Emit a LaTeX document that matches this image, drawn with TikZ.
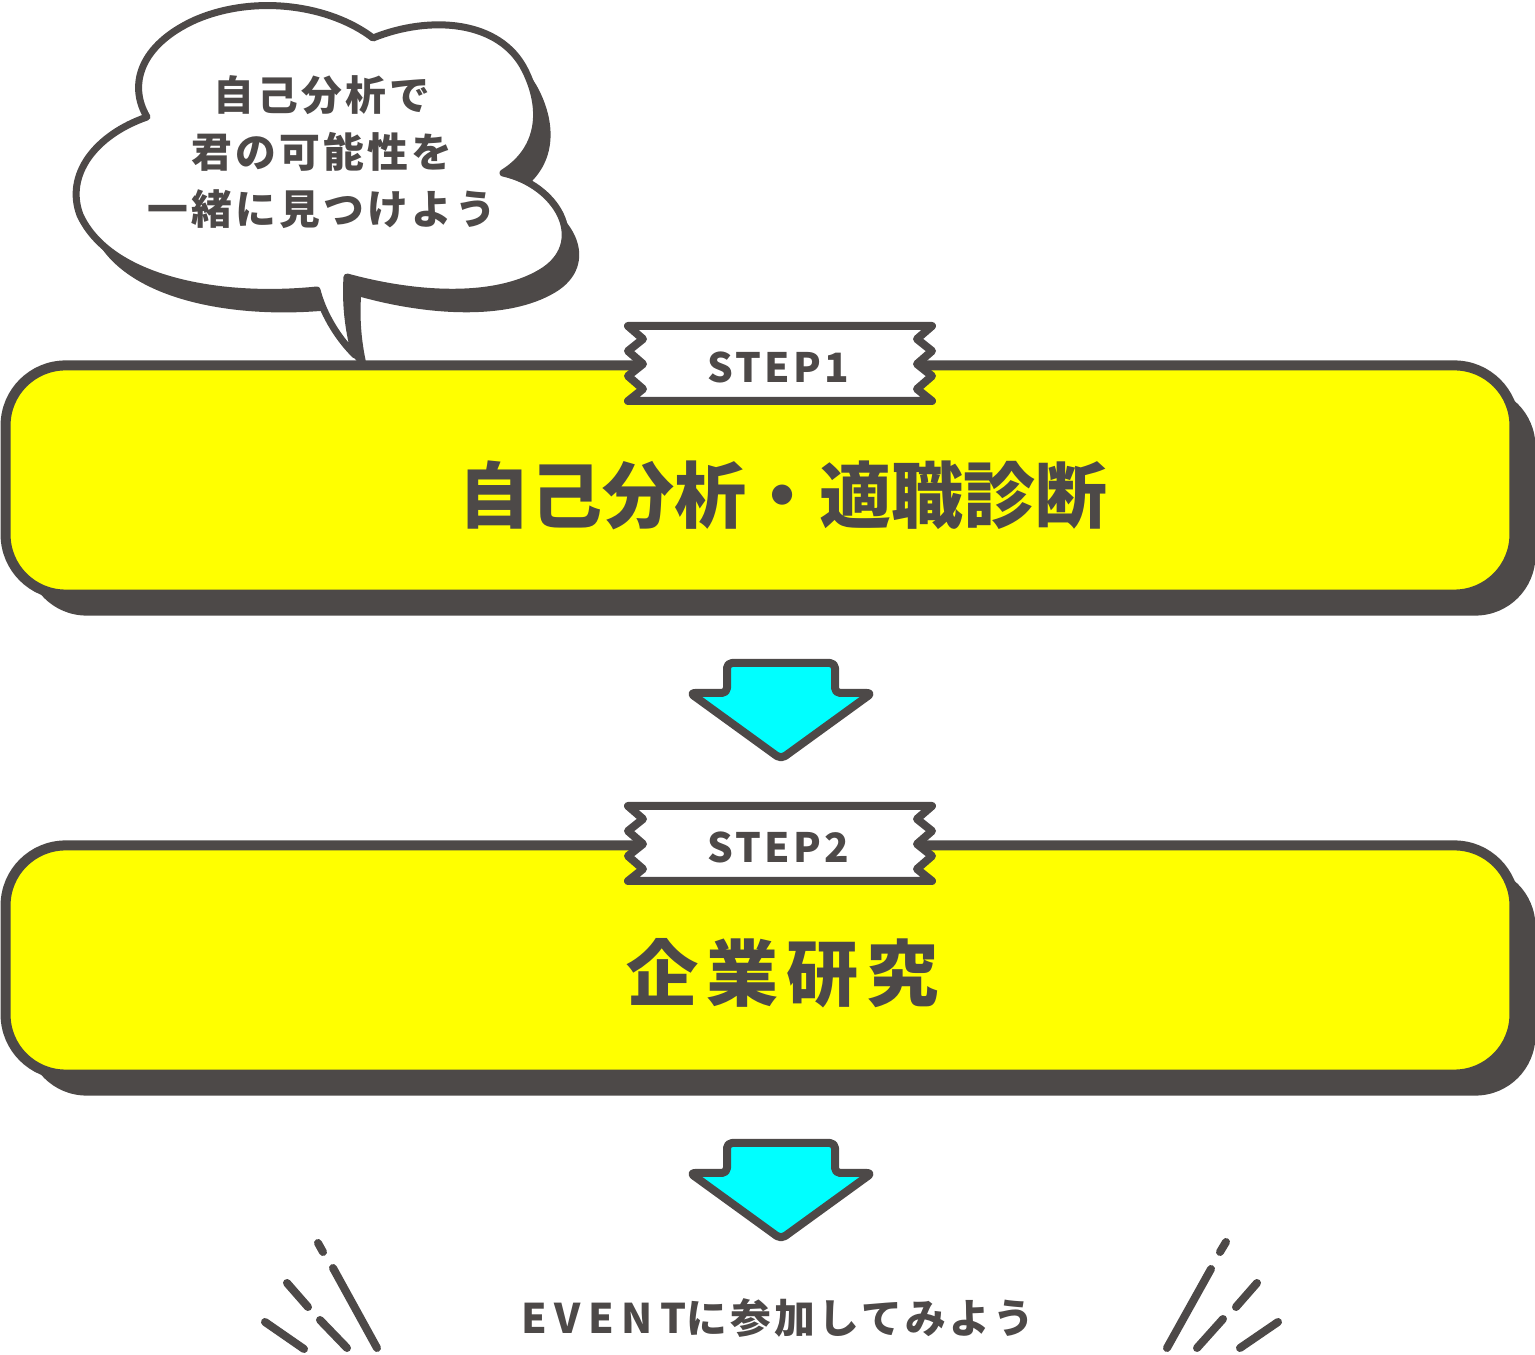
\documentclass[tikz,border=0pt]{standalone}
\usepackage{fontspec}
\setmainfont{Noto Sans CJK JP}
\newfontfamily\widejp{Noto Sans CJK JP}[LetterSpace=8]
\newfontfamily\widerjp{Noto Sans CJK JP}[LetterSpace=11]
\newfontfamily\widelatin{Noto Sans CJK JP}[LetterSpace=18]
\usetikzlibrary{positioning, shadows}
\definecolor{ink}{RGB}{77,73,72}
\definecolor{boxyellow}{RGB}{255,255,0}
\definecolor{arrowcyan}{RGB}{0,255,255}

\begin{document}
\begin{tikzpicture}[x=0.01cm,y=-0.01cm,font=\bfseries,line join=round,text=ink]

	\tikzset{box st/.style={draw=ink, fill=boxyellow, line width=0.1cm,
			rounded corners=0.6cm, minimum width=15.08cm, minimum height=2.29cm,
			inner sep=0pt,
			drop shadow={shadow xshift=0.21cm, shadow yshift=-0.21cm, fill=ink, opacity=1}}}
	\tikzset{tag st/.style={draw=ink, fill=white, line width=0.08cm}}
	\tikzset{tag text/.style={font=\widejp\bfseries\fontsize{11.5}{14}\selectfont}}
	\tikzset{title st/.style={font=\bfseries\fontsize{20.5}{24}\selectfont}}
	\tikzset{arrow st/.style={draw=ink, fill=arrowcyan, line width=0.08cm,
			rounded corners=0.05cm}}
	\tikzset{spark st/.style={draw=ink, line width=0.08cm, line cap=round}}

	\useasboundingbox (0,0) rectangle (1535,1355);

	% speech bubble
	\def\cloud{(147,117) .. controls (128,85) and (140,45) .. (195,20)
		.. controls (255,-6) and (330,5) .. (373,38)
		.. controls (430,15) and (500,20) .. (525,70)
		.. controls (545,110) and (540,150) .. (503,173)
		.. controls (557,185) and (588,240) .. (545,270)
		.. controls (500,300) and (420,297) .. (347,277)
		.. controls (345,310) and (350,335) .. (355,355)
		.. controls (335,335) and (322,310) .. (317,290)
		.. controls (220,300) and (110,280) .. (80,215)
		.. controls (65,175) and (95,135) .. (147,117) -- cycle}
	\fill[ink, shift={(14,20)}] \cloud;
	\draw[ink, fill=white, line width=0.07cm] \cloud;
	\node[align=center, font=\widejp\bfseries\fontsize{11.6}{16.2}\selectfont] (bubble) at (322,152)
		{自己分析で\\君の可能性を\\一緒に見つけよう};

	% step 1
	\node[box st] (box1) at (760,480) {};
	\node[title st] (title1) at (783,495) {自己分析・適職診断};
	\coordinate (tag1) at (780,364);
	\draw[tag st, shift={(tag1)}] (-152,-38) -- (152,-38) -- (137,-25) -- (152,-13) -- (137,0)
		-- (152,12) -- (137,25) -- (152,37) -- (-152,37) -- (-137,25) -- (-152,12)
		-- (-137,0) -- (-152,-13) -- (-137,-25) -- cycle;
	\node[tag text] (step1) at (778,367) {STEP1};

	\coordinate (arr1) at (781,663);
	\draw[arrow st, shift={(arr1)}] (-54,0) -- (54,0) -- (54,30) -- (91,30) -- (0,96)
		-- (-91,30) -- (-54,30) -- cycle;

	% step 2
	\node[box st] (box2) at (760,960) {};
	\node[title st, font=\widerjp\bfseries\fontsize{20.5}{24}\selectfont] (title2) at (783,973) {企業研究};
	\coordinate (tag2) at (780,844);
	\draw[tag st, shift={(tag2)}] (-152,-38) -- (152,-38) -- (137,-25) -- (152,-13) -- (137,0)
		-- (152,12) -- (137,25) -- (152,37) -- (-152,37) -- (-137,25) -- (-152,12)
		-- (-137,0) -- (-152,-13) -- (-137,-25) -- cycle;
	\node[tag text] (step2) at (778,847) {STEP2};

	\coordinate (arr2) at (781,1143);
	\draw[arrow st, shift={(arr2)}] (-54,0) -- (54,0) -- (54,30) -- (91,30) -- (0,96)
		-- (-91,30) -- (-54,30) -- cycle;

	% event
	\node[font=\widejp\bfseries\fontsize{11.6}{14}\selectfont] (event) at (778,1318)
		{{\widelatin EVENT}に参加してみよう};

	\draw[spark st] (318,1243) -- (323,1252);
	\draw[spark st] (333,1268) -- (377,1348);
	\draw[spark st] (287,1283) -- (308,1307);
	\draw[spark st] (320,1320) -- (347,1348);
	\draw[spark st] (265,1322) -- (304,1349);

	\draw[spark st] (1226,1242) -- (1220,1252);
	\draw[spark st] (1211,1269) -- (1167,1348);
	\draw[spark st] (1257,1283) -- (1236,1307);
	\draw[spark st] (1223,1319) -- (1197,1348);
	\draw[spark st] (1278,1322) -- (1240,1348);
\end{tikzpicture}
\end{document}
